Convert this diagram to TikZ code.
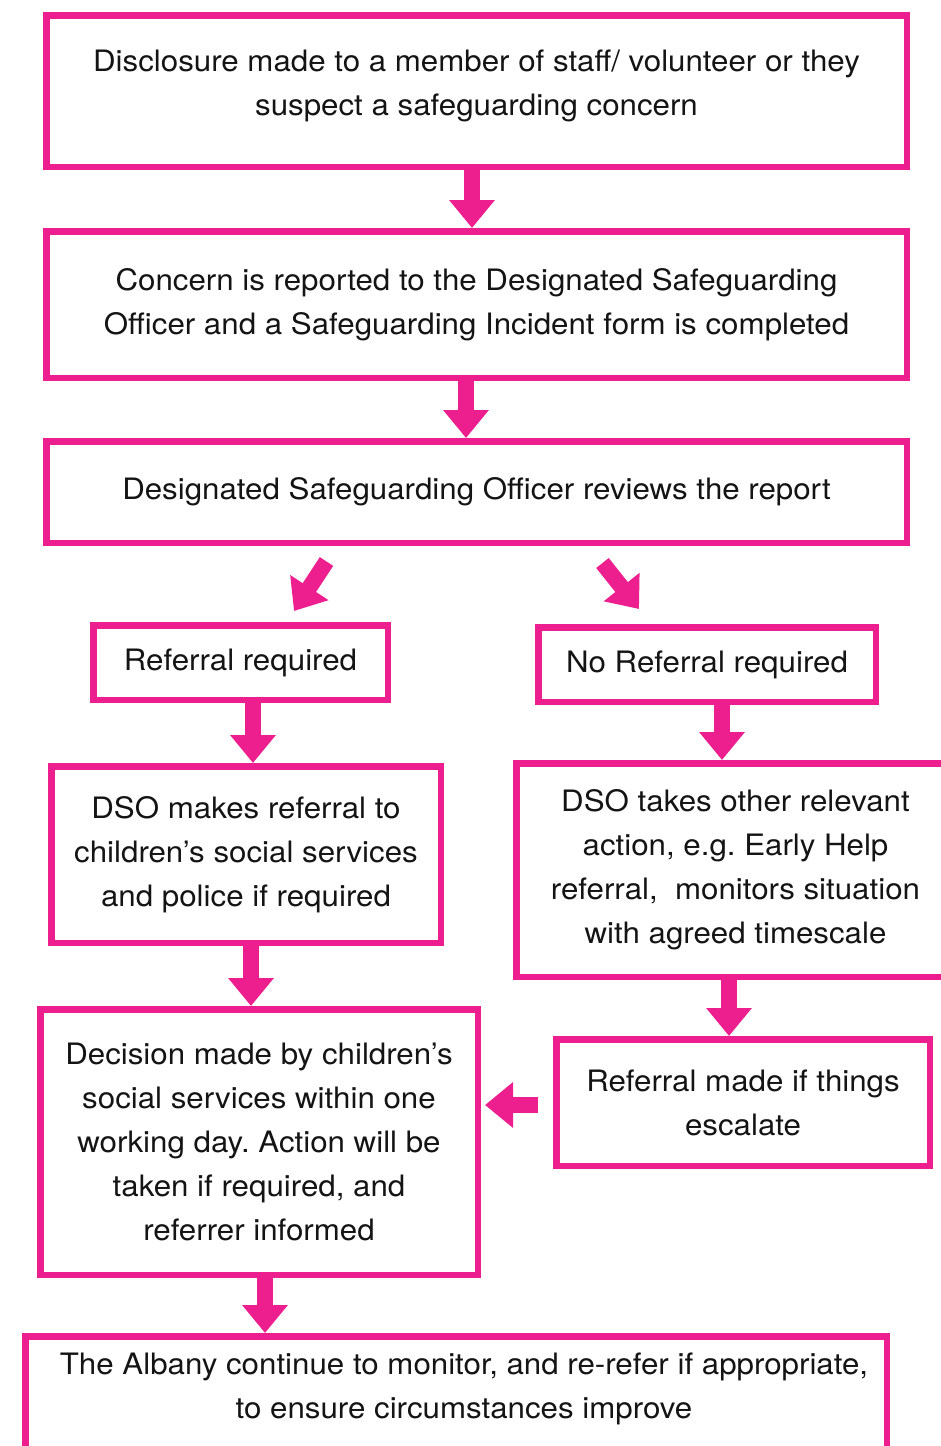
\documentclass[tikz,border=0pt]{standalone}
\usepackage{fontspec}
\setmainfont[FakeStretch=1.06]{TeX Gyre Heros}
\usetikzlibrary{arrows.meta,calc}
\definecolor{pk}{RGB}{237,30,142}
\definecolor{ink}{RGB}{20,20,20}
\frenchspacing
\begin{document}
\begin{tikzpicture}[x=1pt,y=-1pt,
  box/.style={draw=pk, line width=6.5pt, fill=white, align=center,
    font=\fontsize{29.5}{44}\selectfont, inner sep=0pt, text=ink},
  lbl/.style={align=center, font=\fontsize{29.5}{44}\selectfont, inner sep=0pt, text=ink},
  blk/.style={draw=pk, line width=16pt, -{Triangle[width=44pt,length=28pt]}},
]
\useasboundingbox (0,0) rectangle (941,1446);

\node[box, minimum width=860.5pt, minimum height=151.5pt, text depth=16pt] (b1) at (476.5,91)
  {Disclosure made to a member of staff/ volunteer or they\\suspect a safeguarding concern};
\node[box, minimum width=860.5pt, minimum height=146.5pt] (b2) at (476.5,304.5)
  {Concern is reported to the Designated Safeguarding\\Officer and a Safeguarding Incident form is completed};
\node[box, minimum width=860.5pt, minimum height=101.5pt] (b3) at (476.5,492)
  {Designated Safeguarding Officer reviews the report};
\node[box, minimum width=294.5pt, minimum height=74.5pt] (b4) at (240.5,662.5)
  {Referral required};
\node[box, minimum width=337.5pt, minimum height=74.5pt] (b5) at (707,664.5)
  {No Referral required};
\node[box, minimum width=389.5pt, minimum height=176.5pt] (b6) at (246,854.5)
  {DSO makes referral to\\children’s social services\\and police if required};
\node[box, minimum width=438.5pt, minimum height=213.5pt] (b7) at (735.5,870)
  {DSO takes other relevant\\action, e.g. Early Help\\referral,\ \ monitors situation\\with agreed timescale};
\node[box, minimum width=373.5pt, minimum height=126.5pt] (b8) at (743,1102.5)
  {Referral made if things\\escalate};
\node[box, minimum width=437.5pt, minimum height=265.5pt] (b9) at (259,1142)
  {Decision made by children’s\\social services within one\\working day. Action will be\\taken if required, and\\referrer informed};
\node[box, minimum width=861.5pt, minimum height=140.5pt,
  label={[lbl, name=t10, xshift=8pt, yshift=17.5pt]center:{The Albany continue to monitor, and re-refer if appropriate,\\to ensure circumstances improve}}]
  (b10) at (456,1406.5) {};

\coordinate (x1) at (472,0);
\coordinate (x2) at (466,0);
\coordinate (x5) at (253,0);
\coordinate (x6) at (722,0);
\coordinate (x7) at (251,0);
\coordinate (x8) at (729,0);
\coordinate (x10) at (265,0);
\draw[blk] (x1 |- b1.south) -- (x1 |- b2.north);
\draw[blk] (x2 |- b2.south) -- (x2 |- b3.north);
\draw[blk] (x5 |- b4.south) -- (x5 |- b6.north);
\draw[blk] (x6 |- b5.south) -- (x6 |- b7.north);
\draw[blk] (x7 |- b6.south) -- (x7 |- b9.north);
\draw[blk] (x8 |- b7.south) -- (x8 |- b8.north);
\draw[blk] (x10 |- b9.south) -- (x10 |- b10.north);

\coordinate (d1s) at (326.5,561.5);
\coordinate (d1e) at (294,611);
\coordinate (d2s) at (602.5,563);
\coordinate (d2e) at (639,609);
\draw[blk] (d1s) -- (d1e);
\draw[blk] (d2s) -- (d2e);

\coordinate (h1) at (538,1105);
\coordinate (h2) at ($(b9.east |- h1)+(4,0)$);
\draw[blk] (h1) -- (h2);
\end{tikzpicture}
\end{document}
